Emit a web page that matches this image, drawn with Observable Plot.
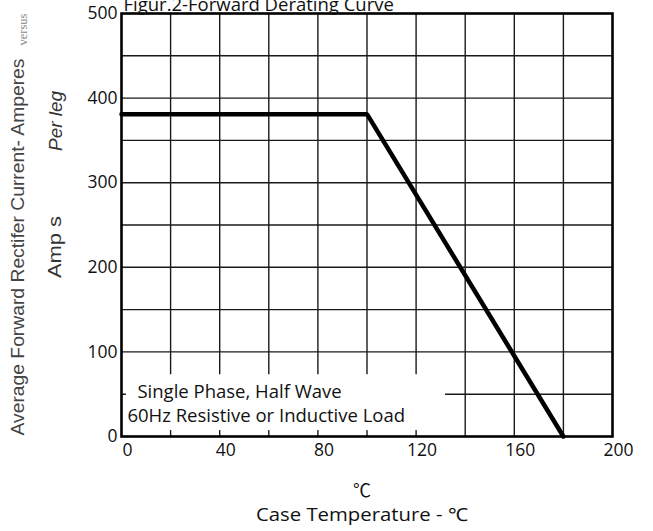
<!DOCTYPE html>
<html>
<head>
<meta charset="utf-8">
<script src="https://cdn.jsdelivr.net/npm/d3@7"></script>
<script src="https://cdn.jsdelivr.net/npm/@observablehq/plot@0.6"></script>
<style>
  html, body { margin: 0; padding: 0; background: #fff; }
  #chart svg { display: block; }
</style>
</head>
<body>
<div id="chart"></div>
<script>
// Derating curve (case temperature °C vs average forward current A)
const temps = [0, 100, 180];
const amps = [381, 381, 0];

// Axis ticks and grid
const xTicks = [0, 40, 80, 120, 160, 200];
const yTicks = [0, 100, 200, 300, 400, 500];
const xGrid = [20, 40, 60, 80, 100, 120, 140, 160, 180];
const yGrid = [50, 100, 150, 200, 250, 300, 350, 400, 450];

// Annotation box (data coordinates) and its text
const noteBox = [{x1: 2, x2: 132, y1: 7, y2: 73}];
const noteLines = [
  {x: 6.5, y: 52, t: "Single Phase, Half Wave"},
  {x: 2.4, y: 24, t: "60Hz Resistive or Inductive Load"}
];

const titleText = "Figur.2-Forward Derating Curve";
const yLabelMain = "Average Forward Rectifer Current- Amperes";
const yLabelVersus = "versus";
const yLabelPerLeg = "Per leg";
const yLabelAmps = "Amp s";
const xUnit = "℃";
const xLabel = "Case Temperature - ℃";

const curve = temps.map((t, i) => ({t, a: amps[i]}));

const chart = Plot.plot({
  width: 653,
  height: 531,
  marginLeft: 121,
  marginRight: 41,
  marginTop: 13,
  marginBottom: 95,
  style: {fontFamily: "'Open Sans', sans-serif", fontSize: "15px", color: "#111", background: "#fff", overflow: "visible"},
  x: {domain: [0, 200]},
  y: {domain: [0, 500]},
  marks: [
    Plot.ruleX(xGrid, {stroke: "#1a1a1a", strokeWidth: 1.4}),
    Plot.ruleY(yGrid, {stroke: "#1a1a1a", strokeWidth: 1.4}),
    Plot.rect(noteBox, {x1: "x1", x2: "x2", y1: "y1", y2: "y2", fill: "#fff"}),
    Plot.text(noteLines, {x: "x", y: "y", text: "t", textAnchor: "start", fontSize: 18.5, fill: "#111"}),
    Plot.frame({stroke: "#000", strokeWidth: 2.6}),
    Plot.line(curve, {x: "t", y: "a", stroke: "#000", strokeWidth: 4.5, strokeLinejoin: "miter"}),
    Plot.axisX({ticks: xTicks, tickSize: 0, tickPadding: 7, dx: 6, label: null, fontSize: 17.5}),
    Plot.axisY({ticks: yTicks, tickSize: 0, tickPadding: 4, label: null, fontSize: 17.5}),
    Plot.text([titleText], {frameAnchor: "top-left", textAnchor: "start", lineAnchor: "bottom", dx: 2, dy: -3, fontSize: 18.5, fill: "#111"}),
    Plot.text([yLabelMain], {frameAnchor: "left", y: [224], textAnchor: "middle", rotate: -90, dx: -103, fontSize: 18, fill: "#444", fontFamily: "'Liberation Sans', Arial, sans-serif"}),
    Plot.text([yLabelVersus], {frameAnchor: "left", y: [481], textAnchor: "middle", rotate: -90, dx: -99, fontSize: 12.5, fill: "#888", fontFamily: "'Liberation Serif', serif"}),
    Plot.text([yLabelPerLeg], {frameAnchor: "left", y: [373], textAnchor: "middle", rotate: -90, dx: -65, fontSize: 18, fontStyle: "italic", fill: "#333", fontFamily: "'Liberation Sans', Arial, sans-serif"}),
    Plot.text([yLabelAmps], {frameAnchor: "left", y: [224], textAnchor: "middle", rotate: -90, dx: -66, fontSize: 18, fill: "#333", fontFamily: "'Liberation Sans', Arial, sans-serif"}),
    Plot.text([xUnit], {frameAnchor: "bottom", dx: -5, dy: 60, fontSize: 18, fill: "#111", fontFamily: "'Noto Sans CJK SC', 'DejaVu Sans', sans-serif"}),
    Plot.text([xLabel], {frameAnchor: "bottom", dx: -5, dy: 84, fontSize: 18, fill: "#111"})
  ]
});

// Condense rotated labels to the printed lengths
const lengths = new Map([
  [yLabelMain, 377], [yLabelVersus, 32], [yLabelPerLeg, 60], [yLabelAmps, 62], [xLabel, 212]
]);
d3.select(chart).selectAll("text").each(function() {
  const s = this.textContent;
  if (lengths.has(s)) {
    this.setAttribute("textLength", lengths.get(s));
    this.setAttribute("lengthAdjust", "spacingAndGlyphs");
  }
});

document.getElementById("chart").appendChild(chart);
</script>
</body>
</html>
